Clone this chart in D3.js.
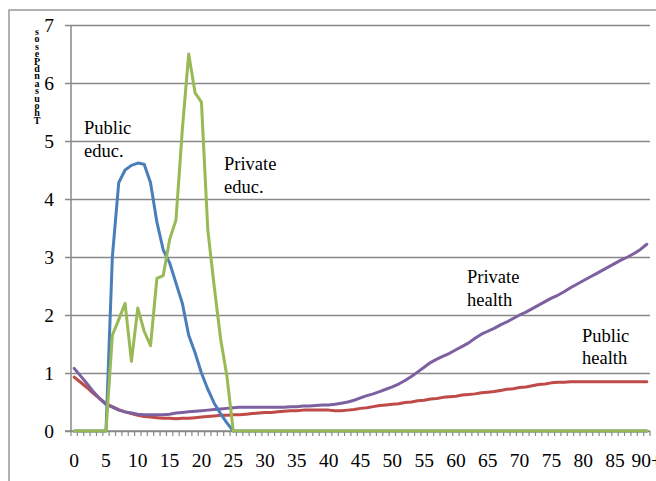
<!DOCTYPE html>
<html><head><meta charset="utf-8">
<script src="https://cdn.jsdelivr.net/npm/d3@7"></script>
<style>
body{margin:0;background:#fff;}
svg{display:block;}
</style></head>
<body><svg id="c" width="656" height="481"></svg>
<script>
const ages = d3.range(0, 91).map(a => a === 90 ? "90+" : String(a));
const xTickLabels = ["0","5","10","15","20","25","30","35","40","45","50","55","60","65","70","75","80","85","90+"];
const yTicks = [0,1,2,3,4,5,6,7];
const yTitle = "Thousand Pesos";

const publicEduc = [0,0,0,0,0,0,3.0,4.28,4.5,4.58,4.62,4.6,4.28,3.6,3.12,2.9,2.55,2.2,1.65,1.35,1.0,0.72,0.48,0.3,0.14,0,
  0,0,0,0,0,0,0,0,0,0,0,0,0,0,0,0,0,0,0,0,0,0,0,0,0,0,0,0,0,0,0,0,0,0,0,0,0,0,0,0,0,0,0,0,0,0,0,0,0,0,0,0,0,0,0,0,0,0,0,0,0,0,0,0,0];
const privateEduc = [0,0,0,0,0,0,1.65,1.92,2.2,1.2,2.12,1.72,1.47,2.63,2.68,3.3,3.64,5.2,6.5,5.83,5.67,3.47,2.5,1.6,0.95,0,
  0,0,0,0,0,0,0,0,0,0,0,0,0,0,0,0,0,0,0,0,0,0,0,0,0,0,0,0,0,0,0,0,0,0,0,0,0,0,0,0,0,0,0,0,0,0,0,0,0,0,0,0,0,0,0,0,0,0,0,0,0,0,0,0,0];
const publicHealth = [0.93,0.84,0.75,0.65,0.56,0.47,0.42,0.37,0.33,0.3,0.27,0.25,0.24,0.23,0.22,0.22,0.21,0.22,0.22,0.23,
  0.24,0.25,0.26,0.27,0.27,0.28,0.28,0.29,0.3,0.31,0.32,0.32,0.33,0.34,0.35,0.35,0.36,0.36,0.36,0.36,
  0.36,0.35,0.35,0.36,0.37,0.39,0.4,0.42,0.44,0.45,0.46,0.47,0.49,0.5,0.52,0.53,0.55,0.56,0.58,0.59,
  0.6,0.62,0.63,0.64,0.66,0.67,0.68,0.7,0.72,0.73,0.75,0.76,0.78,0.8,0.81,0.83,0.84,0.84,0.85,0.85,
  0.85,0.85,0.85,0.85,0.85,0.85,0.85,0.85,0.85,0.85,0.85];
const privateHealth = [1.08,0.95,0.82,0.68,0.56,0.46,0.41,0.36,0.33,0.31,0.29,0.28,0.28,0.28,0.28,0.29,0.31,0.32,0.33,0.34,
  0.35,0.36,0.37,0.38,0.39,0.4,0.41,0.41,0.41,0.41,0.41,0.41,0.41,0.41,0.42,0.42,0.43,0.43,0.44,0.45,
  0.45,0.46,0.48,0.5,0.53,0.57,0.61,0.64,0.68,0.72,0.76,0.81,0.87,0.94,1.02,1.1,1.18,1.24,1.29,1.34,
  1.4,1.46,1.52,1.6,1.67,1.72,1.77,1.83,1.88,1.94,2.0,2.05,2.11,2.17,2.23,2.29,2.34,2.4,2.47,2.53,
  2.59,2.65,2.71,2.77,2.83,2.89,2.95,3.0,3.06,3.13,3.22];

const seriesNames = ["Public health","Private health","Public educ.","Private educ."];
const seriesColors = ["#BE4B48","#7D60A0","#4A7EBB","#98B954"];
const seriesData = [publicHealth, privateHealth, publicEduc, privateEduc];

const labelLines = [["Public","educ."],["Private","educ."],["Private","health"],["Public","health"]];

const FONT = '"Liberation Serif"';
const svg = d3.select("#c");
const L = 71, R = 650, T = 25, B = 431;
const grid = "#898989";

const x = d3.scaleBand().domain(ages).range([L, R]).padding(0);
const y = d3.scaleLinear().domain([0, 7]).range([B, T]);

// outer border
svg.append("rect").attr("x", 9).attr("y", 10).attr("width", 700).attr("height", 500)
  .attr("fill", "none").attr("stroke", grid).attr("stroke-width", 1.3);

// y axis with gridlines
const yAxis = d3.axisLeft(y).tickValues(yTicks).tickSize(-(R - L)).tickPadding(0).tickFormat(d3.format("d"));
const gy = svg.append("g").attr("transform", `translate(${L},0)`).call(yAxis);
gy.attr("font-family", null).attr("font-size", null);
gy.select(".domain").remove();
gy.selectAll(".tick line").attr("stroke", grid).attr("stroke-width", 1.5).attr("x1", -6);
gy.selectAll(".tick text").attr("x", -17).attr("dy", "0.34em").attr("fill", "#000")
  .style("font-size", "19.5px").style("font-family", FONT);
svg.append("line").attr("x1", L).attr("x2", L).attr("y1", T).attr("y2", B)
  .attr("stroke", grid).attr("stroke-width", 1.5);

// x axis: tick marks between categories
const bounds = ages.map(a => x(a)).concat([R]);
svg.append("g").selectAll("line").data(bounds).join("line")
  .attr("x1", d => d).attr("x2", d => d).attr("y1", B).attr("y2", B + 5)
  .attr("stroke", grid).attr("stroke-width", 1.2);
const xAxis = d3.axisBottom(x).tickValues(xTickLabels).tickSize(0).tickPadding(0);
const gx = svg.append("g").attr("transform", `translate(0,${B})`).call(xAxis);
gx.attr("font-family", null).attr("font-size", null);
gx.select(".domain").remove();
gx.selectAll(".tick text").attr("y", 36).attr("dy", 0).attr("fill", "#000")
  .style("font-size", "19.5px").style("font-family", FONT);
svg.append("line").attr("x1", L - 6).attr("x2", R).attr("y1", B).attr("y2", B)
  .attr("stroke", grid).attr("stroke-width", 1.5);

// y title: stacked reversed letters (one text element)
const letters = yTitle.replace(/ /g, "").split("").reverse();
svg.append("text").style("font-size", "10px").style("font-weight", "bold").style("font-family", FONT)
  .attr("text-anchor", "middle")
  .selectAll("tspan").data(letters).join("tspan")
  .attr("x", 37).attr("y", (d, i) => 35 + i * 7.4)
  .text(d => d);

// lines
const line = d3.line().x((d, i) => x(ages[i]) + x.bandwidth() / 2).y(d => y(d));
svg.append("g").selectAll("path").data(seriesData).join("path")
  .attr("d", d => line(d)).attr("fill", "none")
  .attr("stroke", (d, i) => seriesColors[i]).attr("stroke-width", 3)
  .attr("stroke-linejoin", "round").attr("stroke-linecap", "round");

// annotations
const labelPos = [[84, 134, 157], [224, 170, 193], [467, 283, 306], [582, 342, 364]];
labelLines.forEach((ls, k) => {
  const p = labelPos[k];
  ls.forEach((t, j) => {
    svg.append("text").attr("x", p[0]).attr("y", p[1 + j])
      .style("font-size", "18.5px").style("font-family", FONT).text(t);
  });
});
</script></body></html>
